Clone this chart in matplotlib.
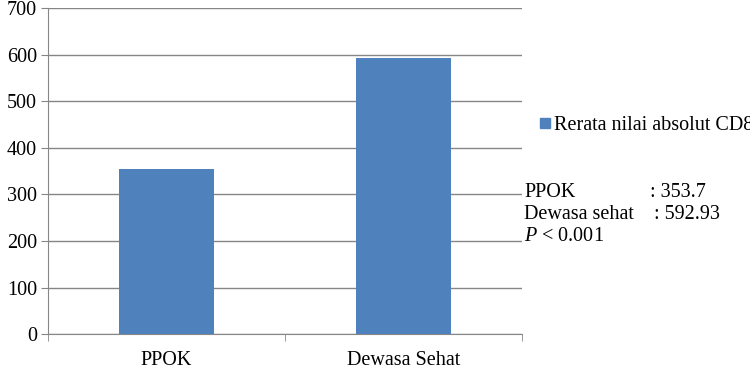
import matplotlib
matplotlib.use("Agg")
from matplotlib import pyplot as plt
from matplotlib.lines import Line2D

plt.rcParams['font.family'] = 'Liberation Serif'
plt.rcParams['mathtext.fontset'] = 'custom'
plt.rcParams['mathtext.rm'] = 'Liberation Serif'
plt.rcParams['mathtext.it'] = 'Liberation Serif:italic'

categories = ['PPOK', 'Dewasa Sehat']
values = [353.7, 592.93]
series_name = 'Rerata nilai absolut CD8'
y_ticks = [0, 100, 200, 300, 400, 500, 600, 700]

bar_color = '#4F81BD'
grid_color = '#868686'
fs = 14.5

fig = plt.figure(figsize=(7.5, 3.7), dpi=100)
ax = fig.add_axes([0.064, 0.097, 0.632, 0.881])

x = range(len(categories))
ax.bar(x, values, width=0.4, color=bar_color, zorder=3)

ax.set_xlim(-0.5, len(categories) - 0.5)
ax.set_ylim(0, 700)
ax.set_yticks(y_ticks)
ax.set_xticks(list(x))
ax.set_xticklabels(categories)
ax.set_xticks([-0.5, 0.5, 1.5], minor=True)
ax.tick_params(axis='x', which='major', length=0, pad=12, labelsize=fs)
ax.tick_params(axis='x', which='minor', length=5, color=grid_color)
ax.tick_params(axis='y', length=5, color=grid_color, labelsize=fs, pad=3)

ax.grid(axis='y', color=grid_color, linewidth=1, zorder=0)
for s in ['top', 'right']:
    ax.spines[s].set_visible(False)
for s in ['left', 'bottom']:
    ax.spines[s].set_color(grid_color)

handle = Line2D([], [], marker='s', linestyle='none', markersize=7,
                markerfacecolor=bar_color, markeredgecolor=bar_color)
fig.legend([handle], [series_name], loc='center left',
           bbox_to_anchor=(0.705, 0.66), frameon=False, fontsize=fs,
           handletextpad=0.05, borderaxespad=0, handlelength=0.8)

fig.text(0.699, 0.481, 'PPOK', fontsize=fs, va='center')
fig.text(0.867, 0.481, ': ' + str(values[0]), fontsize=fs, va='center')
fig.text(0.699, 0.419, 'Dewasa sehat', fontsize=fs, va='center')
fig.text(0.872, 0.419, ': ' + str(values[1]), fontsize=fs, va='center')
fig.text(0.699, 0.360, r'$P$ < 0.001', fontsize=fs, va='center')

fig.savefig('out.png', dpi=100)
